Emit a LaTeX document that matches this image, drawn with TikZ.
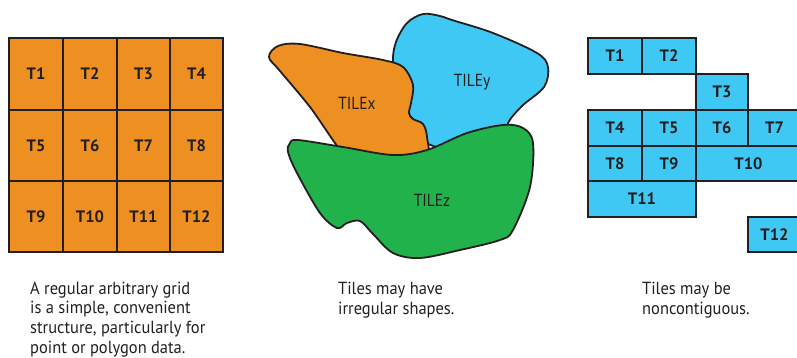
\documentclass[tikz,border=0pt]{standalone}
\usepackage{fontspec}
\setmainfont{PT Sans}
\newfontfamily\capfont[FakeStretch=0.94]{PT Sans}
\newfontfamily\labfont[FakeStretch=0.88]{PT Sans}
\definecolor{tor}{HTML}{EE8F21}
\definecolor{tbl}{HTML}{40C8F4}
\definecolor{tgr}{HTML}{22B24C}
\definecolor{tink}{HTML}{231F20}
\begin{document}
\begin{tikzpicture}[x=1pt,y=-1pt,
  cell/.style={draw=tink,line width=1.6pt},
  ocell/.style={cell,fill=tor},
  bcell/.style={cell,fill=tbl},
  clab/.style={text=tink,font=\fontsize{16.5}{18}\selectfont\bfseries},
  blob/.style={draw=tink,line width=1.8pt,line join=round},
  blab/.style={text=tink,font=\labfont\fontsize{17.5}{18}\selectfont},
  captxt/.style={anchor=base west,align=left,inner sep=0pt,text=tink,font=\capfont\fontsize{17.5}{19.7}\selectfont}]
\useasboundingbox (0,0) rectangle (797,357);
% left regular grid
\foreach \ya/\yb [count=\ri from 0] in {38/110,110/181,181/252}{
  \foreach \xa/\xb [count=\ci from 1] in {9/63,63/117,117/170,170/223}{
    \pgfmathtruncatemacro{\k}{\ri*4+\ci}
    \draw[ocell] (\xa,\ya) rectangle (\xb,\yb);
    \node[clab] (g\k) at ({(\xa+\xb)/2},{(\ya+\yb)/2}) {T\k};
  }
}
% blobs
\path[blob,fill=tbl] plot[smooth cycle,tension=0.55] coordinates {
 (393,62) (396,42) (407,23) (423,14) (440,16) (452,20) (493,33) (537,53) (548,67) (544,87) (522,106) (508,123) (505,140) (450,150) (405,130) (398,95)};
\path[blob,fill=tor] plot[smooth cycle,tension=0.55] coordinates {
 (269,57) (278,46) (300,44) (343,53) (383,60) (403,67) (413,85) (411,103) (409,113) (413,119) (423,124) (427,137) (426,160) (390,170) (352,163) (310,107) (280,71)};
\path[blob,fill=tgr] plot[smooth cycle,tension=0.55] coordinates {
 (290,143) (298,140) (343,147) (393,155) (427,150) (467,133) (503,125) (523,128) (533,143) (530,187) (513,230) (500,240) (460,250) (420,258) (393,253) (373,234) (360,221) (347,223) (337,228) (320,213) (297,173) (288,152)};
\node[blab] (tx) at (357,103) {TILEx};
\node[blab] (ty) at (472,82) {TILEy};
\node[blab] (tz) at (432,200) {TILEz};
% right noncontiguous tiles
\foreach \n/\xa/\ya/\xb/\yb in {1/588/38/642/74, 2/642/38/696/74, 3/696/74/748/110,
  4/588/110/642/146, 5/642/110/696/146, 6/696/110/748/146, 7/748/110/801/146,
  8/588/146/642/181, 9/642/146/696/181, 10/696/146/801/181,
  11/588/181/696/217, 12/748/217/801/252}{
  \draw[bcell] (\xa,\ya) rectangle (\xb,\yb);
  \node[clab] (r\n) at ({(\xa+\xb)/2},{(\ya+\yb)/2}) {T\n};
}
% captions (anchor at the baseline of the last line)
\node[captxt] (c1) at (30,353.1) {A regular arbitrary grid\\is a simple, convenient\\structure, particularly for\\point or polygon data.};
\node[captxt] (c2) at (338,314.1) {Tiles may have\\irregular shapes.};
\node[captxt] (c3) at (642,314.1) {Tiles may be\\noncontiguous.};
\end{tikzpicture}
\end{document}
